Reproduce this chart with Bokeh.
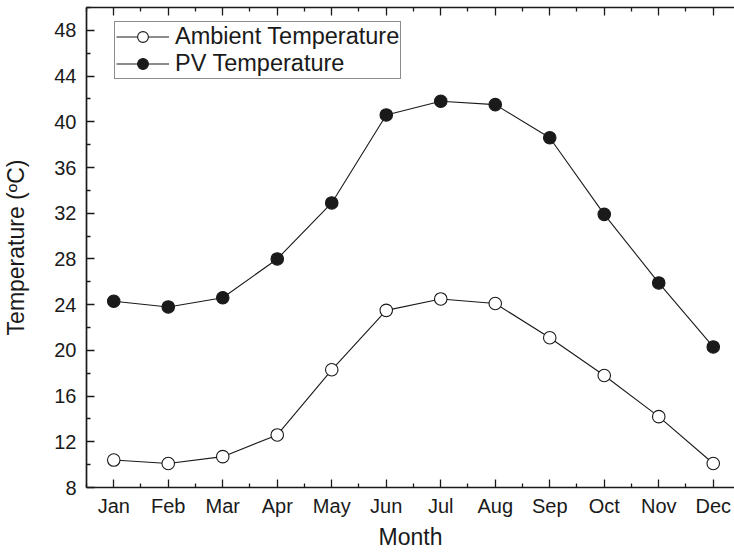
from bokeh.plotting import figure
from bokeh.models import LinearAxis, FixedTicker, Legend, LegendItem, Range1d
from bokeh.embed import file_html
from bokeh.resources import INLINE

months = ["Jan", "Feb", "Mar", "Apr", "May", "Jun", "Jul", "Aug", "Sep", "Oct", "Nov", "Dec"]
ambient_temp = [10.4, 10.1, 10.7, 12.6, 18.3, 23.5, 24.5, 24.1, 21.1, 17.8, 14.2, 10.1]
pv_temp = [24.3, 23.8, 24.6, 28.0, 32.9, 40.6, 41.8, 41.5, 38.6, 31.9, 25.9, 20.3]
y_ticks = [8, 12, 16, 20, 24, 28, 32, 36, 40, 44, 48]

x = list(range(1, len(months) + 1))
FONT = "Liberation Sans"
INK = "#1a1a1a"

p = figure(width=734, height=555, x_range=Range1d(0.5, 12.39), y_range=Range1d(8, 50),
           output_backend="svg", toolbar_location=None,
           min_border_left=86, min_border_top=7, min_border_right=0, min_border_bottom=68)
p.outline_line_color = None
p.xgrid.visible = False
p.ygrid.visible = False
p.background_fill_color = "white"
p.border_fill_color = "white"

x_ticker = FixedTicker(ticks=x, minor_ticks=[v + 0.5 for v in [0] + x])
y_ticker = FixedTicker(ticks=y_ticks, minor_ticks=[v + 2 for v in [y_ticks[0] - 4] + y_ticks])

def style_axis(ax):
    ax.axis_line_color = INK
    ax.axis_line_width = 1.7
    ax.major_tick_line_color = INK
    ax.minor_tick_line_color = INK
    ax.major_tick_line_width = 1.3
    ax.minor_tick_line_width = 1.3
    ax.major_tick_in = 8
    ax.major_tick_out = 0
    ax.minor_tick_in = 4
    ax.minor_tick_out = 0
    ax.major_label_text_font = FONT
    ax.major_label_text_font_size = "20px"
    ax.major_label_text_color = INK
    ax.axis_label_text_font = FONT
    ax.axis_label_text_font_size = "23px"
    ax.axis_label_text_font_style = "normal"
    ax.axis_label_text_color = INK

xa = p.xaxis[0]
xa.ticker = x_ticker
xa.major_label_overrides = {i: m for i, m in zip(x, months)}
xa.axis_label = "Month"
style_axis(xa)
xa.major_label_standoff = 7
xa.axis_label_standoff = 4

ya = p.yaxis[0]
ya.ticker = y_ticker
ya.axis_label = "Temperature (ºC)"
style_axis(ya)
ya.major_label_standoff = 10
ya.axis_label_standoff = 22

top = LinearAxis(ticker=x_ticker)
style_axis(top)
top.major_label_text_font_size = "0px"
top.major_label_standoff = 0
top.major_label_overrides = {i: "" for i in x}
p.add_layout(top, "above")

l1 = p.line(x, ambient_temp, line_color=INK, line_width=1.1)
s1 = p.scatter(x, ambient_temp, size=12.5, fill_color="white", line_color=INK, line_width=1.1)
l2 = p.line(x, pv_temp, line_color=INK, line_width=1.1)
s2 = p.scatter(x, pv_temp, size=12.5, fill_color=INK, line_color=INK, line_width=1.1)

legend = Legend(items=[LegendItem(label="Ambient Temperature", renderers=[l1, s1]),
                       LegendItem(label="PV Temperature", renderers=[l2, s2])],
                location=(28, 480 - 16 - 56))
legend.label_text_font = FONT
legend.label_text_font_size = "23.5px"
legend.label_text_color = INK
legend.glyph_width = 53
legend.glyph_height = 27
legend.label_height = 27
legend.label_standoff = 6
legend.spacing = 0
legend.padding = 1
legend.margin = 0
legend.border_line_color = INK
legend.border_line_width = 1.2
legend.background_fill_alpha = 1
p.add_layout(legend)

open("out.html", "w").write(file_html(p, INLINE))
